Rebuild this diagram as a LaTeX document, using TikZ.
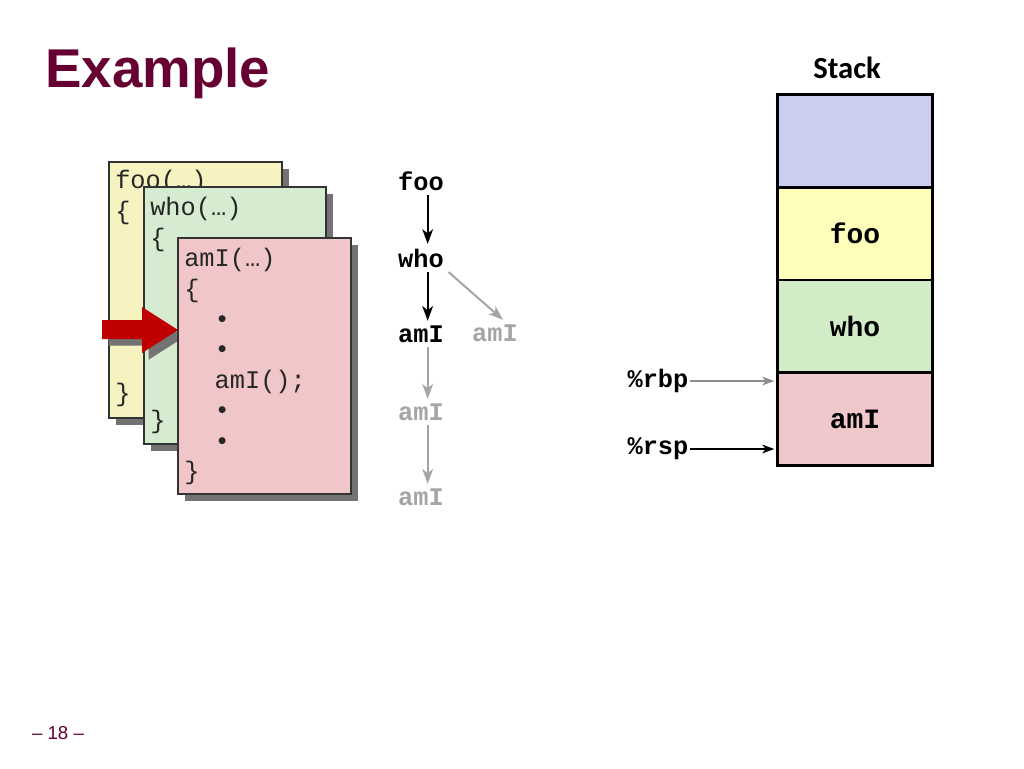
\documentclass[tikz,border=0pt]{standalone}
\usepackage{fontspec}
\usepackage{xcolor}
\usepackage{tikz}
\usetikzlibrary{positioning,shadows,arrows.meta}
\setmonofont{Liberation Mono}
\newfontfamily\titlefont{Liberation Sans}
\newfontfamily\stackfont{Carlito}
\definecolor{TitleRed}{RGB}{102,0,51}
\definecolor{FooBg}{RGB}{246,243,192}
\definecolor{WhoBg}{RGB}{213,236,208}
\definecolor{AmIBg}{RGB}{240,198,200}
\definecolor{StkBlue}{RGB}{204,206,240}
\definecolor{StkYellow}{RGB}{255,255,187}
\definecolor{StkGreen}{RGB}{210,236,200}
\definecolor{StkPink}{RGB}{240,200,204}
\definecolor{CallRed}{RGB}{192,0,0}
\definecolor{FadeGray}{RGB}{165,165,165}
\definecolor{RegGray}{RGB}{140,140,140}

\tikzset{
  page/.style={draw=black!80,line width=0.8pt,
    drop shadow={shadow xshift=5pt,shadow yshift=-5pt,fill=black!55,opacity=1}},
  code/.style={anchor=north west,inner sep=0pt,text width=125pt,align=left,
    font=\ttfamily\fontsize{19}{22.8}\selectfont,text=black!85},
  call/.style={font=\ttfamily\bfseries\fontsize{19}{22}\selectfont},
  callfade/.style={call,text=FadeGray},
  callarrow/.style={line width=1.5pt,-{Stealth[length=11pt,width=8pt,inset=3pt]}},
  fadearrow/.style={callarrow,draw=FadeGray},
  cell/.style={draw,line width=2.2pt,outer sep=0pt,minimum width=116pt,minimum height=69.5pt,
    font=\ttfamily\bfseries\fontsize{21}{24}\selectfont},
  reg/.style={anchor=east,inner xsep=1pt,font=\ttfamily\bfseries\fontsize{19}{22}\selectfont},
  regarrow/.style={line width=1.5pt,-{Stealth[length=9pt,width=6.5pt,inset=2.5pt]}},
}

\begin{document}
\begin{tikzpicture}[x=0.75pt,y=-0.75pt]
  \useasboundingbox[fill=white] (0,0) rectangle (1024,768);

  % title and page number
  \node[anchor=base west,inner sep=0pt,text=TitleRed,
        font=\titlefont\bfseries\fontsize{41}{48}\selectfont] (title) at (45,87) {Example};
  \node[anchor=base,text=TitleRed,font=\titlefont\fontsize{14}{16}\selectfont]
        (pageNo) at (58,739) {– 18 –};

  % code pages
  \draw[page,fill=FooBg] (109,162) rectangle (282,418);
  \node[code] (fooTxt) at (115,170) {%
    foo(…)\\
    \{\\[5\baselineskip]
    \}};
  \draw[page,fill=WhoBg] (144,187) rectangle (326,444);
  \node[code] (whoTxt) at (150,197) {%
    who(…)\\
    \{\\[5\baselineskip]
    \}};
  \fill[CallRed,drop shadow={shadow xshift=5pt,shadow yshift=-5pt,fill=black!55,opacity=1}]
    (102,320) -- (142,320) -- (142,307) -- (178,330) -- (142,353) -- (142,339) -- (102,339) -- cycle;
  \draw[page,fill=AmIBg] (178,238) rectangle (351,494);
  \node[code] (amITxt) at (184,248) {%
    amI(…)\\
    \{\\
    \phantom{aa}•\\
    \phantom{aa}•\\
    \phantom{aa}amI();\\
    \phantom{aa}•\\
    \phantom{aa}•\\
    \}};

  % call tree
  \node[call] (cFoo) at (421,181) {foo};
  \node[call] (cWho) at (421,258) {who};
  \node[call] (cAmI) at (421,334) {amI};
  \node[callfade] (cAmIr) at (495,333) {amI};
  \node[callfade] (cAmIb) at (421,412) {amI};
  \node[callfade] (cAmIc) at (421,497) {amI};
  \draw[callarrow] ([xshift=5pt]cFoo.south) -- ([xshift=5pt]cWho.north);
  \draw[callarrow] ([xshift=5pt]cWho.south) -- ([xshift=5pt]cAmI.north);
  \draw[fadearrow] (cWho.south east) -- ([xshift=6pt]cAmIr.north);
  \draw[fadearrow] ([xshift=5pt]cAmI.south) -- ([xshift=5pt]cAmIb.north);
  \draw[fadearrow] ([xshift=5pt]cAmIb.south) -- ([xshift=5pt]cAmIc.north);

  % stack
  \node[anchor=base,font=\stackfont\bfseries\fontsize{23}{26}\selectfont] (stkTitle) at (847,78) {Stack};
  \node[cell,fill=StkBlue] (stkTop) at (855,141) {};
  \node[cell,fill=StkYellow,below=0pt of stkTop] (stkFoo) {foo};
  \node[cell,fill=StkGreen,below=0pt of stkFoo] (stkWho) {who};
  \node[cell,fill=StkPink,below=0pt of stkWho] (stkAmI) {amI};

  % registers
  \node[reg] (rbp) at (690,381) {\%rbp};
  \node[reg] (rsp) at (690,449) {\%rsp};
  \draw[regarrow,draw=RegGray] (rbp.east) -- ([xshift=-2.5pt]rbp.east -| stkAmI.west);
  \draw[regarrow] (rsp.east) -- ([xshift=-2.5pt]rsp.east -| stkAmI.west);
\end{tikzpicture}
\end{document}
